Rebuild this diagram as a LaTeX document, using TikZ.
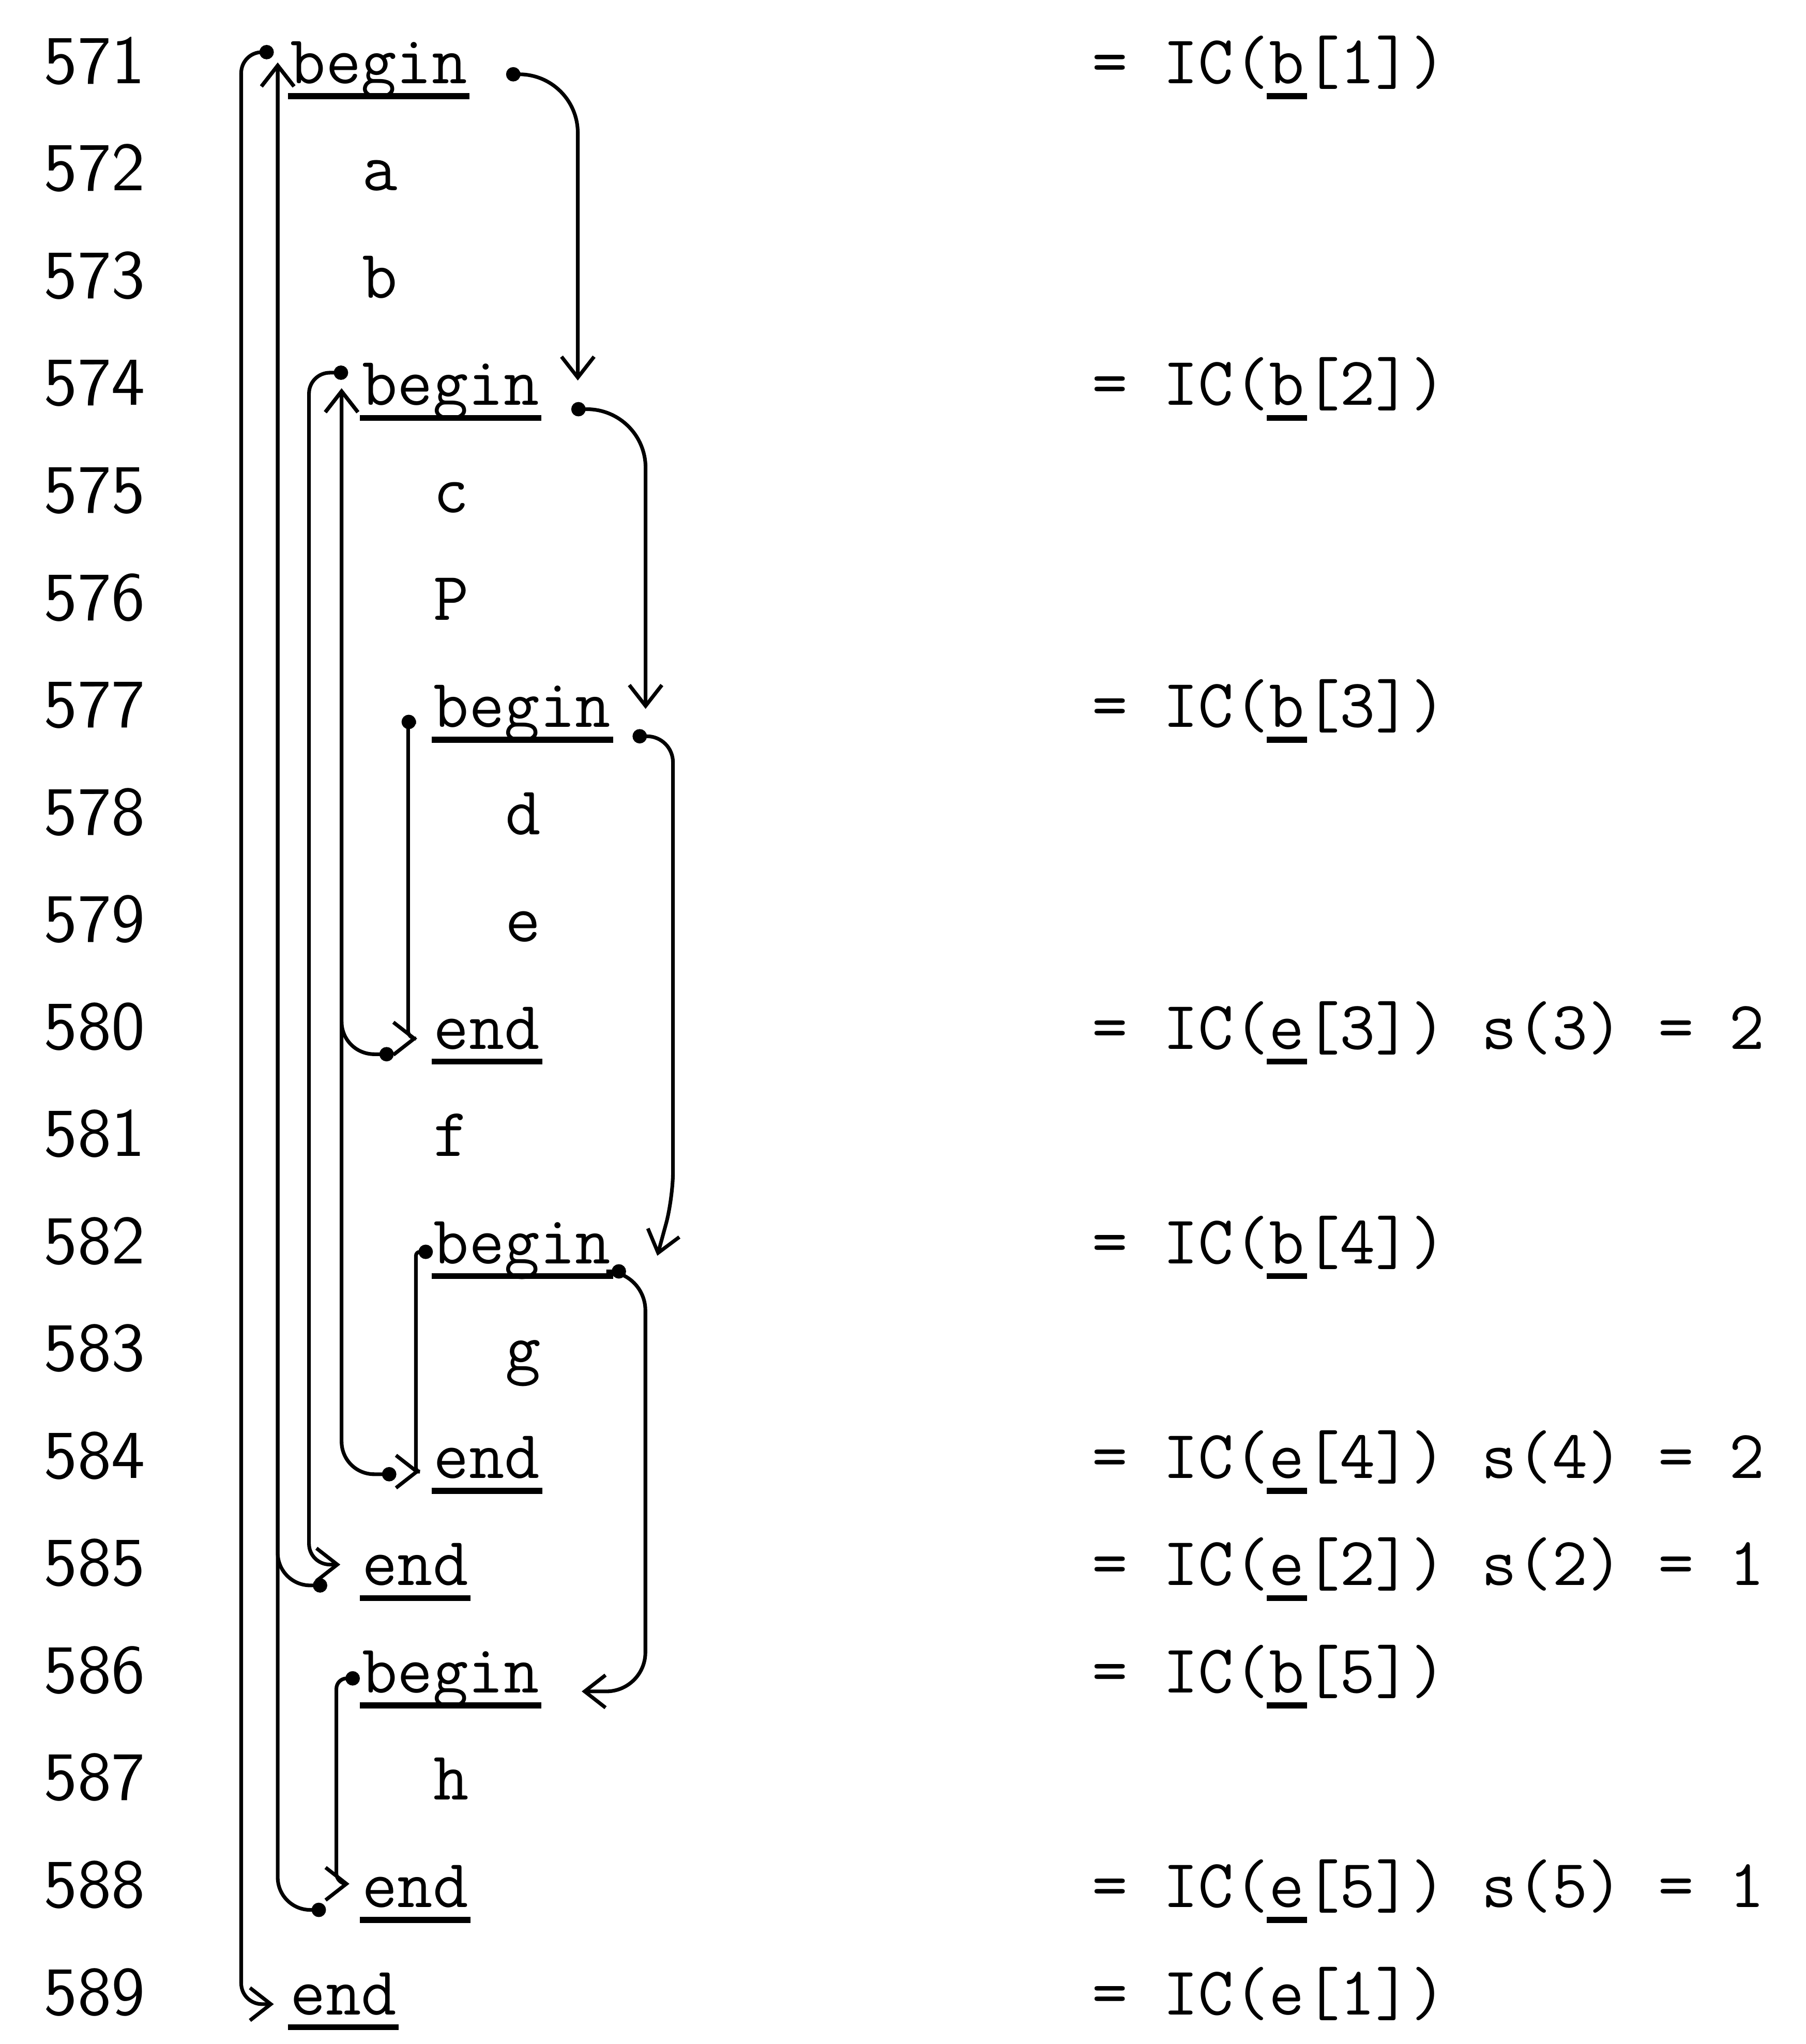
\documentclass[tikz,border=0pt]{standalone}
\usepackage{fontspec}
\usetikzlibrary{arrows.meta}
\definecolor{TypeInk}{RGB}{0,0,0}
\newcommand{\ulkw}[1]{\setbox0=\hbox{#1}\rlap{\kern-0.5pt\rule[-3.4pt]{\dimexpr\wd0+1pt\relax}{1.3pt}}\box0}
\tikzset{
  line no/.style={anchor=base west, inner sep=0pt, text=TypeInk, font=\sffamily\fontsize{15}{18}\selectfont},
  code text/.style={anchor=base west, inner sep=0pt, text=TypeInk, font=\ttfamily\fontsize{15}{18}\selectfont},
  jump link/.style={draw=TypeInk, line width=0.8pt, {Circle[length=1.1mm]}-{Straight Barb[length=1.6mm,width=2.5mm]}}
}

\begin{document}
\begin{tikzpicture}
\useasboundingbox (0,0) rectangle (13.85,-15.68);
% text columns
\coordinate (c0) at (2.22,0);
\coordinate (c1) at (2.77,0);
\coordinate (c2) at (3.32,0);
\coordinate (c3) at (3.87,0);
\coordinate (cr) at (8.37,0);
% line numbers
\foreach \n [count=\i from 0] in {571,...,589}
  \node[line no] (n\n) at (0.33,{-0.64-0.823*\i}) {\n};
% program
\node[code text] (b1) at (n571.base -| c0) {\ulkw{begin}};
\node[code text] (sa) at (n572.base -| c1) {a};
\node[code text] (sb) at (n573.base -| c1) {b};
\node[code text] (b2) at (n574.base -| c1) {\ulkw{begin}};
\node[code text] (sc) at (n575.base -| c2) {c};
\node[code text] (sP) at (n576.base -| c2) {P};
\node[code text] (b3) at (n577.base -| c2) {\ulkw{begin}};
\node[code text] (sd) at (n578.base -| c3) {d};
\node[code text] (se) at (n579.base -| c3) {e};
\node[code text] (e3) at (n580.base -| c2) {\ulkw{end}};
\node[code text] (sf) at (n581.base -| c2) {f};
\node[code text] (b4) at (n582.base -| c2) {\ulkw{begin}};
\node[code text] (sg) at (n583.base -| c3) {g};
\node[code text] (e4) at (n584.base -| c2) {\ulkw{end}};
\node[code text] (e2) at (n585.base -| c1) {\ulkw{end}};
\node[code text] (b5) at (n586.base -| c1) {\ulkw{begin}};
\node[code text] (sh) at (n587.base -| c2) {h};
\node[code text] (e5) at (n588.base -| c1) {\ulkw{end}};
\node[code text] (e1) at (n589.base -| c0) {\ulkw{end}};
% instruction counters
\node[code text] (r571) at (n571.base -| cr) {= IC(\ulkw{b}[1])};
\node[code text] (r574) at (n574.base -| cr) {= IC(\ulkw{b}[2])};
\node[code text] (r577) at (n577.base -| cr) {= IC(\ulkw{b}[3])};
\node[code text] (r580) at (n580.base -| cr) {= IC(\ulkw{e}[3]) s(3) = 2};
\node[code text] (r582) at (n582.base -| cr) {= IC(\ulkw{b}[4])};
\node[code text] (r584) at (n584.base -| cr) {= IC(\ulkw{e}[4]) s(4) = 2};
\node[code text] (r585) at (n585.base -| cr) {= IC(\ulkw{e}[2]) s(2) = 1};
\node[code text] (r586) at (n586.base -| cr) {= IC(\ulkw{b}[5])};
\node[code text] (r588) at (n588.base -| cr) {= IC(\ulkw{e}[5]) s(5) = 1};
\node[code text] (r589) at (n589.base -| cr) {= IC(e[1])};
% begin -> matching end
\coordinate (k1) at (1.85,-8);
\coordinate (k2) at (2.37,-7);
\coordinate (k3) at (3.13,-7);
\coordinate (k4) at (3.19,-10.5);
\coordinate (k5) at (2.58,-13.8);
\draw[jump link, rounded corners=1.6mm] ([xshift=-1.2mm,yshift=2.4mm]b1.base west) -| (k1) |- ([xshift=-1.2mm,yshift=0.8mm]e1.base west);
\draw[jump link, rounded corners=1.6mm] ([xshift=-1mm,yshift=2.5mm]b2.base west) -| (k2) |- ([xshift=-1.6mm,yshift=1.6mm]e2.base west);
\draw[jump link, rounded corners=0.6mm] ([xshift=-1.3mm,yshift=0.4mm]b3.base west) -| (k3) |- ([xshift=-1.2mm,yshift=0.8mm]e3.base west);
\draw[jump link, rounded corners=0.3mm] ([xshift=-1.1mm,yshift=0.9mm]b4.base west) -| (k4) |- ([xshift=-1mm,yshift=0.5mm]e4.base west);
\draw[jump link, rounded corners=0.8mm] ([xshift=-1.2mm,yshift=1.1mm]b5.base west) -| (k5) |- ([xshift=-0.9mm,yshift=1.8mm]e5.base west);
% end -> enclosing begin
\draw[jump link, rounded corners=2.5mm] ([xshift=-2.6mm]e2.base west) -| ([xshift=-0.9mm,yshift=1.6mm]b1.base west);
\draw[jump link, rounded corners=2.5mm] ([xshift=-2.7mm,yshift=-0.2mm]e5.base west) -| ([xshift=-0.9mm,yshift=1.6mm]b1.base west);
\draw[jump link, rounded corners=2.5mm] ([xshift=-3mm,yshift=-0.4mm]e3.base west) -| ([xshift=-1.5mm,yshift=1.3mm]b2.base west);
\draw[jump link, rounded corners=2.5mm] ([xshift=-2.8mm,yshift=0.3mm]e4.base west) -| ([xshift=-1.5mm,yshift=1.3mm]b2.base west);
% begin -> next begin
\draw[jump link, rounded corners=4.5mm] ([xshift=2.9mm,yshift=0.7mm]b1.base east) -| ([xshift=2.9mm,yshift=1.9mm]b2.base east);
\draw[jump link, rounded corners=4.5mm] ([xshift=2.4mm,yshift=-0.3mm]b2.base east) -| ([xshift=2.6mm,yshift=1.4mm]b3.base east);
\draw[jump link, rounded corners=2mm] ([xshift=1.6mm,yshift=-0.7mm]b3.base east) -| ([xshift=4.7mm,yshift=5mm]b4.base east) -- ([xshift=3.5mm,yshift=0.6mm]b4.base east);
\coordinate (k11) at (4.95,-11);
\draw[jump link, rounded corners=3mm] ([xshift=1.1mm,yshift=-0.6mm]b4.base east) -| (k11) |- ([xshift=3.2mm,yshift=0.1mm]b5.base east);
\end{tikzpicture}
\end{document}
